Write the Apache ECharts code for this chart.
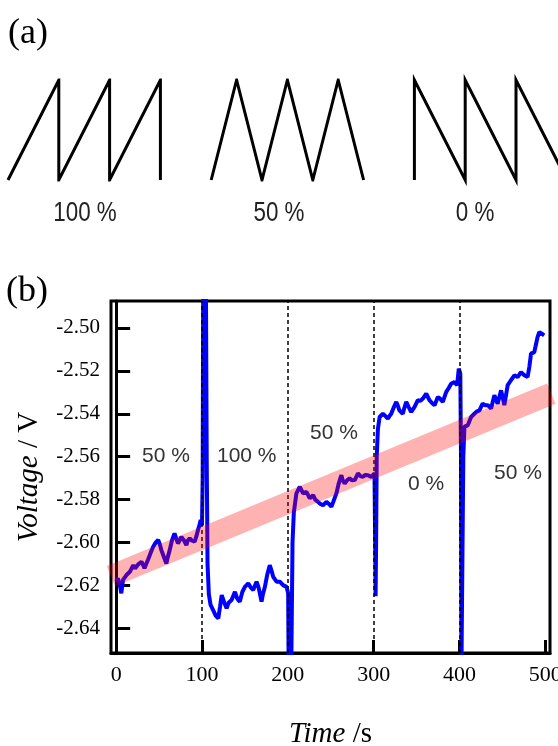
<!DOCTYPE html>
<html>
<head>
<meta charset="utf-8">
<style>
    html, body{
        margin: 0;
        padding: 0;
        background: #fff;
    }
    #main{
        width: 558px;
        height: 746px;
    }
</style>
</head>
<body>
<div id="main"></div>
<script src="https://cdn.jsdelivr.net/npm/echarts@6/dist/echarts.min.js"></script>
<script>
    // (b) voltage trace, time in s
    var timeS = [0, 2, 4, 6, 8, 10, 12, 14, 16, 18, 20, 22, 23.6, 26, 29.5, 31, 33, 35, 37, 40, 43, 46, 49, 51, 52.7, 55, 58.5, 60, 62.4, 65, 68, 70, 72, 74, 76, 79, 81.8, 83.5, 85.7, 88, 91.5, 93.5, 95.3, 97, 98.5, 100,
        100.8, 101.5, 104.5, 105.5, 106.5, 108, 110,
        113, 116, 119, 121, 123, 126, 128.7, 131, 134.5, 138.4, 141, 144, 147, 150, 153.9, 157, 159.7, 163.6, 166, 169.4, 171, 173.3, 176, 179, 181, 183, 186.9, 190.7, 194.5, 198.5, 200.4,
        201, 204, 205.5, 207, 210, 214, 217.8, 221.7, 225.6, 229.5, 232, 235, 238, 241, 245, 248, 250.8, 253, 256.6, 259, 262.4, 264, 266.3, 269, 272, 275, 278, 281.8, 284.5, 287.6, 290, 293.4, 297.3, 299.5, 301,
        301.8, 302.3, 302.9, 303.6, 305, 307, 310.8, 313.5, 316.6, 318.5, 320.5, 323.5, 326.4, 328, 330, 334, 336, 338, 341, 343.8, 347.7, 351.5, 354.5, 357.4, 361.3, 365, 368, 371, 374.8, 377.5, 380.6, 384.5, 387.5, 390.3, 394.2, 397.3, 399.2, 401,
        401.8, 402.3, 403.5, 404.5, 405.8, 409.7, 413.6, 417.4, 420, 423.3, 427, 430, 433, 436.9, 440.7, 444.5, 448.5, 452.3, 456.2, 460, 464, 467.8, 471.7, 475.6, 479.4, 481.5, 483.4, 487.2, 489, 491, 493, 495, 497, 498.8];
    var voltV = [-2.618, -2.6167, -2.619, -2.6236, -2.6174, -2.617, -2.6151, -2.616, -2.6136, -2.612, -2.6105, -2.612, -2.6125, -2.610, -2.6089, -2.610, -2.612, -2.610, -2.6081, -2.605, -2.602, -2.600, -2.5988, -2.601, -2.6035, -2.606, -2.6097, -2.607, -2.6035, -2.599, -2.5957, -2.598, -2.6004, -2.599, -2.5973, -2.599, -2.6012, -2.599, -2.598, -2.599, -2.5996, -2.597, -2.5942, -2.592, -2.5895, -2.592,
        -2.57, -2.47, -2.47, -2.56, -2.61, -2.624, -2.629,
        -2.6314, -2.634, -2.6353, -2.630, -2.6244, -2.628, -2.6306, -2.628, -2.6267, -2.6229, -2.626, -2.6275, -2.623, -2.6206, -2.619, -2.621, -2.6221, -2.6182, -2.621, -2.6275, -2.624, -2.6206, -2.615, -2.6105, -2.613, -2.6159, -2.6182, -2.6182, -2.6198, -2.6206, -2.6236,
        -2.66, -2.66, -2.60, -2.586, -2.5771, -2.574, -2.5771, -2.5764, -2.5794, -2.5779, -2.580, -2.581, -2.582, -2.5826, -2.581, -2.582, -2.5833, -2.581, -2.5771, -2.573, -2.5686, -2.571, -2.5725, -2.571, -2.5701, -2.571, -2.5709, -2.5678, -2.569, -2.5694, -2.5685, -2.5686, -2.5694, -2.569, -2.5678,
        -2.60, -2.625, -2.60, -2.56, -2.547, -2.5415, -2.540, -2.541, -2.5423, -2.541, -2.540, -2.537, -2.5345, -2.536, -2.5384, -2.540, -2.537, -2.5345, -2.537, -2.5392, -2.5368, -2.5337, -2.534, -2.5329, -2.5306, -2.5337, -2.535, -2.536, -2.5322, -2.533, -2.5345, -2.5299, -2.528, -2.526, -2.5252, -2.5267, -2.519, -2.5213,
        -2.56, -2.66, -2.66, -2.56, -2.5461, -2.5453, -2.5415, -2.540, -2.539, -2.5384, -2.5353, -2.536, -2.536, -2.5376, -2.5314, -2.5353, -2.5291, -2.536, -2.5267, -2.5244, -2.5221, -2.5229, -2.5206, -2.5221, -2.5229, -2.518, -2.512, -2.5113, -2.508, -2.5043, -2.502, -2.5012, -2.503, -2.5035];

    // pink guide band (centre line)
    var bandX = [-6, 507];
    var bandV = [-2.6156, -2.5306];

    var switchAt = [100, 200, 300, 400];
    var xTicks = [0, 100, 200, 300, 400, 500];
    var yTicks = [-2.64, -2.62, -2.60, -2.58, -2.56, -2.54, -2.52, -2.50];

    // (a) waveforms, x in periods, y 0..1
    var saw100X = [0, 1, 1, 2, 2, 3, 3];
    var saw100Y = [0, 1, 0, 1, 0, 1, 0];
    var tri50X = [4, 4.5, 5, 5.5, 6, 6.5, 7];
    var tri50Y = [0, 1, 0, 1, 0, 1, 0];
    var saw0X = [8, 8, 9, 9, 10, 10, 11];
    var saw0Y = [0, 1, 0, 1, 0, 1, 0];

    function pairs(xs, ys){
        return xs.map(function (x, i) { return [x, ys[i]]; });
    }

    var serif = 'Liberation Serif';
    var sans = 'Liberation Sans';
    var narrow = '28px ' + sans;

    var waveStyle = { color: '#000', width: 3, join: 'miter', miterLimit: 20 };

    var option = {
        animation: false,
        backgroundColor: '#fff',
        grid: [
            { left: 111, top: 301, width: 439, height: 352, outerBoundsMode: 'none', containLabel: false, show: true, borderColor: '#000', borderWidth: 3, backgroundColor: 'transparent' },
            { left: 8, top: 80, width: 558.8, height: 100, outerBoundsMode: 'none', containLabel: false }
        ],
        xAxis: [
            {
                gridIndex: 0,
                type: 'value',
                min: -6,
                max: 505.5,
                splitLine: { show: false },
                axisLine: { lineStyle: { color: '#000', width: 3 } },
                axisTick: { inside: true, length: 13, customValues: xTicks, lineStyle: { color: '#000', width: 3 } },
                axisLabel: { customValues: xTicks, fontFamily: serif, fontSize: 22, color: '#000', margin: 11, hideOverlap: false },
                name: '{i|Time} /s',
                nameLocation: 'middle',
                nameGap: 67,
                nameTextStyle: {
                    fontFamily: serif, fontSize: 29, color: '#000',
                    rich: { i: { fontFamily: serif, fontSize: 29, fontStyle: 'italic', color: '#000' } }
                }
            },
            { gridIndex: 1, type: 'value', min: 0, max: 11, show: false }
        ],
        yAxis: [
            {
                gridIndex: 0,
                type: 'value',
                min: -2.6514,
                max: -2.4875,
                splitLine: { show: false },
                axisLine: { lineStyle: { color: '#000', width: 3 } },
                axisTick: { inside: true, length: 14, customValues: yTicks, lineStyle: { color: '#000', width: 3 } },
                axisLabel: {
                    customValues: yTicks, fontFamily: serif, fontSize: 21, color: '#000', margin: 11,
                    formatter: function (v) { return v.toFixed(2); }
                },
                name: '{i|Voltage} / V',
                nameLocation: 'middle',
                nameGap: 67,
                nameTextStyle: {
                    fontFamily: serif, fontSize: 29, color: '#000',
                    rich: { i: { fontFamily: serif, fontSize: 29, fontStyle: 'italic', color: '#000' } }
                }
            },
            { gridIndex: 1, type: 'value', min: 0, max: 1, show: false }
        ],
        series: [
            {
                type: 'line',
                data: pairs(timeS, voltV),
                symbol: 'none',
                lineStyle: { color: '#0000ff', width: 4 },
                z: 3,
                markLine: {
                    silent: true,
                    symbol: 'none',
                    label: { show: false },
                    lineStyle: { color: '#000', width: 1.5, type: [4, 3] },
                    data: switchAt.map(function (v) { return { xAxis: v }; })
                }
            },
            {
                type: 'line',
                data: pairs(bandX, bandV),
                symbol: 'none',
                clip: false,
                lineStyle: { color: 'rgba(255,0,0,0.3)', width: 22, cap: 'butt' },
                z: 5
            },
            { type: 'line', xAxisIndex: 1, yAxisIndex: 1, symbol: 'none', data: pairs(saw100X, saw100Y), lineStyle: waveStyle },
            { type: 'line', xAxisIndex: 1, yAxisIndex: 1, symbol: 'none', data: pairs(tri50X, tri50Y), lineStyle: waveStyle },
            { type: 'line', xAxisIndex: 1, yAxisIndex: 1, symbol: 'none', clip: false, data: pairs(saw0X, saw0Y), lineStyle: waveStyle }
        ],
        graphic: [
            { type: 'text', x: 8, y: 34, style: { text: '(a)', font: '36px ' + serif, fill: '#000', verticalAlign: 'middle' } },
            { type: 'text', x: 6, y: 292, style: { text: '(b)', font: '36px ' + serif, fill: '#000', verticalAlign: 'middle' } },
            // condensed labels under the waveforms
            { type: 'text', x: 85, y: 213, scaleX: 0.8, style: { text: '100 %', font: narrow, fill: '#222', align: 'center', verticalAlign: 'middle' } },
            { type: 'text', x: 279, y: 213, scaleX: 0.8, style: { text: '50 %', font: narrow, fill: '#222', align: 'center', verticalAlign: 'middle' } },
            { type: 'text', x: 475, y: 213, scaleX: 0.8, style: { text: '0 %', font: narrow, fill: '#222', align: 'center', verticalAlign: 'middle' } },
            { type: 'text', x: 142, y: 456, z: 10, style: { text: '50 %', font: '21px ' + sans, fill: '#333', verticalAlign: 'middle' } },
            { type: 'text', x: 217, y: 456, z: 10, style: { text: '100 %', font: '21px ' + sans, fill: '#333', verticalAlign: 'middle' } },
            { type: 'text', x: 310, y: 433, z: 10, style: { text: '50 %', font: '21px ' + sans, fill: '#333', verticalAlign: 'middle' } },
            { type: 'text', x: 408, y: 484, z: 10, style: { text: '0 %', font: '21px ' + sans, fill: '#333', verticalAlign: 'middle' } },
            { type: 'text', x: 494, y: 473, z: 10, style: { text: '50 %', font: '21px ' + sans, fill: '#333', verticalAlign: 'middle' } }
        ]
    };

    var myChart = echarts.init(document.getElementById('main'));
    myChart.setOption(option);
</script>
</body>
</html>
